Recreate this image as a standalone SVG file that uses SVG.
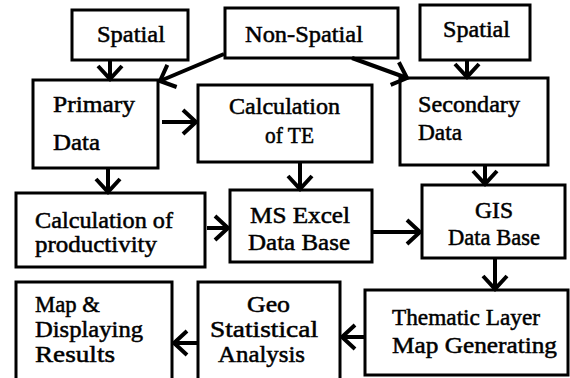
<svg xmlns="http://www.w3.org/2000/svg" width="570" height="378" viewBox="0 0 570 378">
<style>
.box{fill:#fff;stroke:#000;stroke-width:3}
.c{fill:none;stroke:#000;stroke-width:4}
</style>
<defs>
<marker id="ah" markerUnits="userSpaceOnUse" markerWidth="32" markerHeight="32" refX="16" refY="16" orient="auto">
<path d="M3,4 L16,16 L3,28" fill="none" stroke="#000" stroke-width="4"/>
</marker>
</defs>
<rect width="570" height="378" fill="#fff"/>
<g id="spatial1"><rect class="box" x="72" y="10" width="116" height="50"/><text font-family="Liberation Serif" font-size="23" stroke="#000" stroke-width="0.5" x="97" y="42" textLength="68" lengthAdjust="spacingAndGlyphs">Spatial</text></g>
<g id="nonspatial"><rect class="box" x="225" y="8" width="173" height="50"/><text font-family="Liberation Serif" font-size="23" stroke="#000" stroke-width="0.5" x="245" y="42" textLength="118" lengthAdjust="spacingAndGlyphs">Non-Spatial</text></g>
<g id="spatial2"><rect class="box" x="420" y="5" width="110" height="55"/><text font-family="Liberation Serif" font-size="23" stroke="#000" stroke-width="0.5" x="443" y="37" textLength="67" lengthAdjust="spacingAndGlyphs">Spatial</text></g>
<g id="primary"><rect class="box" x="33" y="80" width="125" height="88"/><text font-family="Liberation Serif" font-size="23" stroke="#000" stroke-width="0.5" x="53" y="112" textLength="82" lengthAdjust="spacingAndGlyphs">Primary</text><text font-family="Liberation Serif" font-size="23" stroke="#000" stroke-width="0.5" x="53" y="150" textLength="47" lengthAdjust="spacingAndGlyphs">Data</text></g>
<g id="calcte"><rect class="box" x="198" y="85" width="174" height="77"/><text font-family="Liberation Serif" font-size="23" stroke="#000" stroke-width="0.5" x="229" y="114" textLength="111" lengthAdjust="spacingAndGlyphs">Calculation</text><text font-family="Liberation Serif" font-size="23" stroke="#000" stroke-width="0.5" x="265" y="143" textLength="49" lengthAdjust="spacingAndGlyphs">of TE</text></g>
<g id="secondary"><rect class="box" x="400" y="78" width="148" height="87"/><text font-family="Liberation Serif" font-size="23" stroke="#000" stroke-width="0.5" x="418" y="112" textLength="102" lengthAdjust="spacingAndGlyphs">Secondary</text><text font-family="Liberation Serif" font-size="23" stroke="#000" stroke-width="0.5" x="418" y="140" textLength="44" lengthAdjust="spacingAndGlyphs">Data</text></g>
<g id="calcprod"><rect class="box" x="16" y="193" width="189" height="74"/><text font-family="Liberation Serif" font-size="23" stroke="#000" stroke-width="0.5" x="35" y="228" textLength="138" lengthAdjust="spacingAndGlyphs">Calculation of</text><text font-family="Liberation Serif" font-size="23" stroke="#000" stroke-width="0.5" x="35" y="252" textLength="122" lengthAdjust="spacingAndGlyphs">productivity</text></g>
<g id="msexcel"><rect class="box" x="230" y="190" width="142" height="72"/><text font-family="Liberation Serif" font-size="23" stroke="#000" stroke-width="0.5" x="250" y="223" textLength="100" lengthAdjust="spacingAndGlyphs">MS Excel</text><text font-family="Liberation Serif" font-size="23" stroke="#000" stroke-width="0.5" x="248" y="250" textLength="102" lengthAdjust="spacingAndGlyphs">Data Base</text></g>
<g id="gis"><rect class="box" x="422" y="185" width="143" height="73"/><text font-family="Liberation Serif" font-size="23" stroke="#000" stroke-width="0.5" x="475" y="218" textLength="38" lengthAdjust="spacingAndGlyphs">GIS</text><text font-family="Liberation Serif" font-size="23" stroke="#000" stroke-width="0.5" x="448" y="245" textLength="92" lengthAdjust="spacingAndGlyphs">Data Base</text></g>
<g id="mapdisplay"><rect class="box" x="16" y="282" width="156" height="100"/><text font-family="Liberation Serif" font-size="23" stroke="#000" stroke-width="0.5" x="35" y="312" textLength="65" lengthAdjust="spacingAndGlyphs">Map &amp;</text><text font-family="Liberation Serif" font-size="23" stroke="#000" stroke-width="0.5" x="35" y="337" textLength="108" lengthAdjust="spacingAndGlyphs">Displaying</text><text font-family="Liberation Serif" font-size="23" stroke="#000" stroke-width="0.5" x="35" y="362" textLength="80" lengthAdjust="spacingAndGlyphs">Results</text></g>
<g id="geostat"><rect class="box" x="198" y="282" width="142" height="100"/><text font-family="Liberation Serif" font-size="23" stroke="#000" stroke-width="0.5" x="247" y="312" textLength="43" lengthAdjust="spacingAndGlyphs">Geo</text><text font-family="Liberation Serif" font-size="23" stroke="#000" stroke-width="0.5" x="210" y="337" textLength="108" lengthAdjust="spacingAndGlyphs">Statistical</text><text font-family="Liberation Serif" font-size="23" stroke="#000" stroke-width="0.5" x="218" y="362" textLength="87" lengthAdjust="spacingAndGlyphs">Analysis</text></g>
<g id="thematic"><rect class="box" x="365" y="290" width="203" height="85"/><text font-family="Liberation Serif" font-size="23" stroke="#000" stroke-width="0.5" x="392" y="325" textLength="148" lengthAdjust="spacingAndGlyphs">Thematic Layer</text><text font-family="Liberation Serif" font-size="23" stroke="#000" stroke-width="0.5" x="392" y="353" textLength="165" lengthAdjust="spacingAndGlyphs">Map Generating</text></g>
<g id="connectors">
<line class="c" x1="110" y1="60" x2="110" y2="79" marker-end="url(#ah)"/>
<line class="c" x1="224" y1="54" x2="160" y2="81" marker-end="url(#ah)"/>
<line class="c" x1="352" y1="58" x2="407" y2="78" marker-end="url(#ah)"/>
<line class="c" x1="467" y1="60" x2="467" y2="77" marker-end="url(#ah)"/>
<line class="c" x1="162" y1="122" x2="196" y2="122" marker-end="url(#ah)"/>
<line class="c" x1="108" y1="168" x2="108" y2="192" marker-end="url(#ah)"/>
<line class="c" x1="300" y1="162" x2="300" y2="189" marker-end="url(#ah)"/>
<line class="c" x1="485" y1="165" x2="485" y2="184" marker-end="url(#ah)"/>
<line class="c" x1="207" y1="228" x2="228" y2="228" marker-end="url(#ah)"/>
<line class="c" x1="372" y1="232" x2="420" y2="232" marker-end="url(#ah)"/>
<line class="c" x1="495" y1="258" x2="495" y2="289" marker-end="url(#ah)"/>
<line class="c" x1="365" y1="337" x2="342" y2="337" marker-end="url(#ah)"/>
<line class="c" x1="198" y1="343" x2="174" y2="343" marker-end="url(#ah)"/>
</g>
</svg>
